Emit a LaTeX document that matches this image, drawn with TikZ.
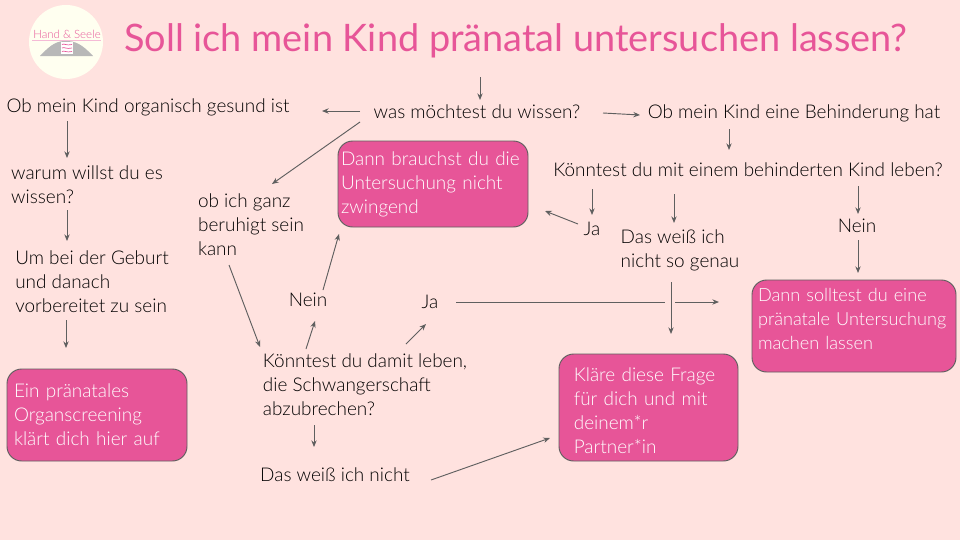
\documentclass[tikz,border=0pt]{standalone}
\usepackage{fontspec}
\setmainfont{Lato}[UprightFont=* Light]
\newfontfamily\titelfont{Lato}
\usetikzlibrary{calc,arrows.meta}
\definecolor{hintergrund}{HTML}{FFE2DF}
\definecolor{rosa}{HTML}{E75598}
\definecolor{creme}{HTML}{FFFFF0}
\definecolor{liniengrau}{HTML}{5F5F5F}
\begin{document}
\begin{tikzpicture}[x=0.75pt, y=-0.75pt]
  \tikzstyle{frage}=[align=left, inner sep=0pt, text=black, font=\fontsize{14.2}{18}\selectfont]
  \tikzstyle{kasten}=[draw=liniengrau, fill=rosa, rounded corners=11pt, line width=0.7pt, align=left, inner sep=0pt, text=white, font=\fontsize{14.2}{18}\selectfont]
  \tikzstyle{pfeil}=[draw=liniengrau, line width=0.7pt, -{Stealth[length=5pt, width=4pt]}]
  \tikzstyle{strich}=[draw=liniengrau, line width=0.7pt]

  % Hintergrund.
  \fill[hintergrund] (0, 0) rectangle (960, 540);

  % Logo.
  \fill[creme] (66, 42) circle (37);
  \fill[black!28] (40, 56) .. controls (52, 43) and (58, 41) .. (66, 41) .. controls (75, 41) and (82, 44) .. (93, 56) -- cycle;
  \draw[rosa!40, line width=0.7pt] (32, 40.5) -- (101, 40.5);
  \node[text=rosa, inner sep=0pt, font=\fontsize{8.6}{9}\selectfont] (logo) at (67, 34) {Hand \& Seele};
  \node[fill=white, minimum width=8.5pt, minimum height=8.5pt, inner sep=0pt] (wellen) at (67, 48) {};
  \draw[rosa, line width=0.5pt] (62, 44.5) .. controls (64, 43) and (66, 46) .. (72, 44.5);
  \draw[rosa, line width=0.5pt] (62, 48) .. controls (64, 46.5) and (66, 49.5) .. (72, 48);
  \draw[rosa, line width=0.5pt] (62, 51.5) .. controls (64, 50) and (66, 53) .. (72, 51.5);

  % Titel.
  \node[text=rosa, inner sep=0pt, font=\titelfont\fontsize{28.4}{30}\selectfont] (titel) at (516, 41) {Soll ich mein Kind pränatal untersuchen lassen?};

  % Fragen.
  \coordinate (start) at (480, 77);
  \node[frage] (wissen) at (477, 112) {was möchtest du wissen?};
  \node[frage] (organisch) at (148, 107) {Ob mein Kind organisch gesund ist};
  \node[frage] (behinderung) at (794, 113) {Ob mein Kind eine Behinderung hat};
  \node[frage] (leben) at (748, 170) {Könntest du mit einem behinderten Kind leben?};
  \node[frage] (warum) at (87, 185) {warum willst du es\\wissen?};
  \node[frage] (vorbereitet) at (92, 282) {Um bei der Geburt\\und danach\\vorbereitet zu sein};
  \node[frage] (beruhigt) at (251, 225) {ob ich ganz\\beruhigt sein\\kann};
  \node[frage] (abbruch) at (365, 385) {Könntest du damit leben,\\die Schwangerschaft\\abzubrechen?};
  \node[frage] (neinb) at (308, 300) {Nein};
  \node[frage] (jab) at (430, 302) {Ja};
  \node[frage] (nicht) at (335, 475) {Das weiß ich nicht};
  \node[frage] (ja) at (592, 229) {Ja};
  \node[frage] (genau) at (680, 250) {Das weiß ich\\nicht so genau};
  \node[frage] (nein) at (857, 226) {Nein};

  % Kästen.
  \node[kasten, minimum width=142.5pt, minimum height=64.5pt, text width=138pt] (brauchst) at (433, 184) {Dann brauchst du die\\Untersuchung nicht\\zwingend};
  \node[kasten, font=\fontsize{13.6}{18}\selectfont, minimum width=153pt, minimum height=69pt, text width=144pt] (solltest) at (854, 326) {Dann solltest du eine\\pränatale Untersuchung\\machen lassen\rule[-10pt]{0pt}{0pt}};
  \node[kasten, minimum width=134.25pt, minimum height=80.25pt, text width=112pt] (klaere) at (648.5, 407.5) {\rule{0pt}{15pt}Kläre diese Frage\\für dich und mit\\deinem*r\\Partner*in};
  \node[kasten, minimum width=135pt, minimum height=69pt, text width=124.5pt] (screening) at (97, 415) {Ein pränatales\\Organscreening\\klärt dich hier auf};

  % Pfeile.
  \draw[pfeil] (start) -- ($(wissen)+(3, -12)$);
  \draw[pfeil] ($(wissen)+(-117, -1)$) -- ($(organisch)+(174, 4)$);
  \draw[pfeil] ($(wissen)+(126, 1)$) -- ($(behinderung)+(-154, 2)$);
  \draw[pfeil] ($(wissen)+(-117, 10)$) -- ($(beruhigt)+(21, -41)$);
  \draw[pfeil] ($(organisch)+(-81, 14)$) -- ($(warum)+(-20, -27)$);
  \draw[pfeil] ($(warum)+(-20, 25)$) -- ($(vorbereitet)+(-25, -41)$);
  \draw[pfeil] ($(vorbereitet)+(-26, 38)$) -- ($(screening)+(-31, -67)$);
  \draw[pfeil] ($(behinderung)+(-65, 16)$) -- ($(leben)+(-19, -20)$);
  \draw[pfeil] ($(leben)+(-156, 19)$) -- ($(ja)+(0, -14)$);
  \draw[pfeil] ($(leben)+(-74, 24)$) -- ($(genau)+(-6, -27)$);
  \draw[pfeil] ($(leben)+(110, 16)$) -- ($(nein)+(1, -12)$);
  \draw[pfeil] ($(nein)+(1, 14)$) -- ($(solltest)+(4, -53)$);
  \draw[pfeil] ($(ja)+(-14, -5)$) -- ($(brauchst)+(112, 27)$);
  \draw[pfeil] ($(beruhigt)+(-22, 40)$) -- ($(abbruch)+(-105, -38)$);
  \draw[pfeil] ($(abbruch)+(-59, -36)$) -- ($(neinb)+(7, 21)$);
  \draw[pfeil] ($(neinb)+(15, -10)$) -- ($(brauchst)+(-94, 50)$);
  \draw[pfeil] ($(abbruch)+(41, -41)$) -- ($(jab)+(-4, 22)$);
  \draw[strich] ($(jab)+(26, 0)$) -- (665, 302);
  \draw[pfeil] (675, 302) -- ($(solltest)+(-135, -24)$);
  \draw[pfeil] ($(genau)+(-9, 32)$) -- ($(klaere)+(22.5, -73.5)$);
  \draw[pfeil] ($(abbruch)+(-51, 40)$) -- ($(nicht)+(-21, -28)$);
  \draw[pfeil] ($(nicht)+(96, 5)$) -- ($(klaere)+(-98.5, 30.5)$);
\end{tikzpicture}
\end{document}
